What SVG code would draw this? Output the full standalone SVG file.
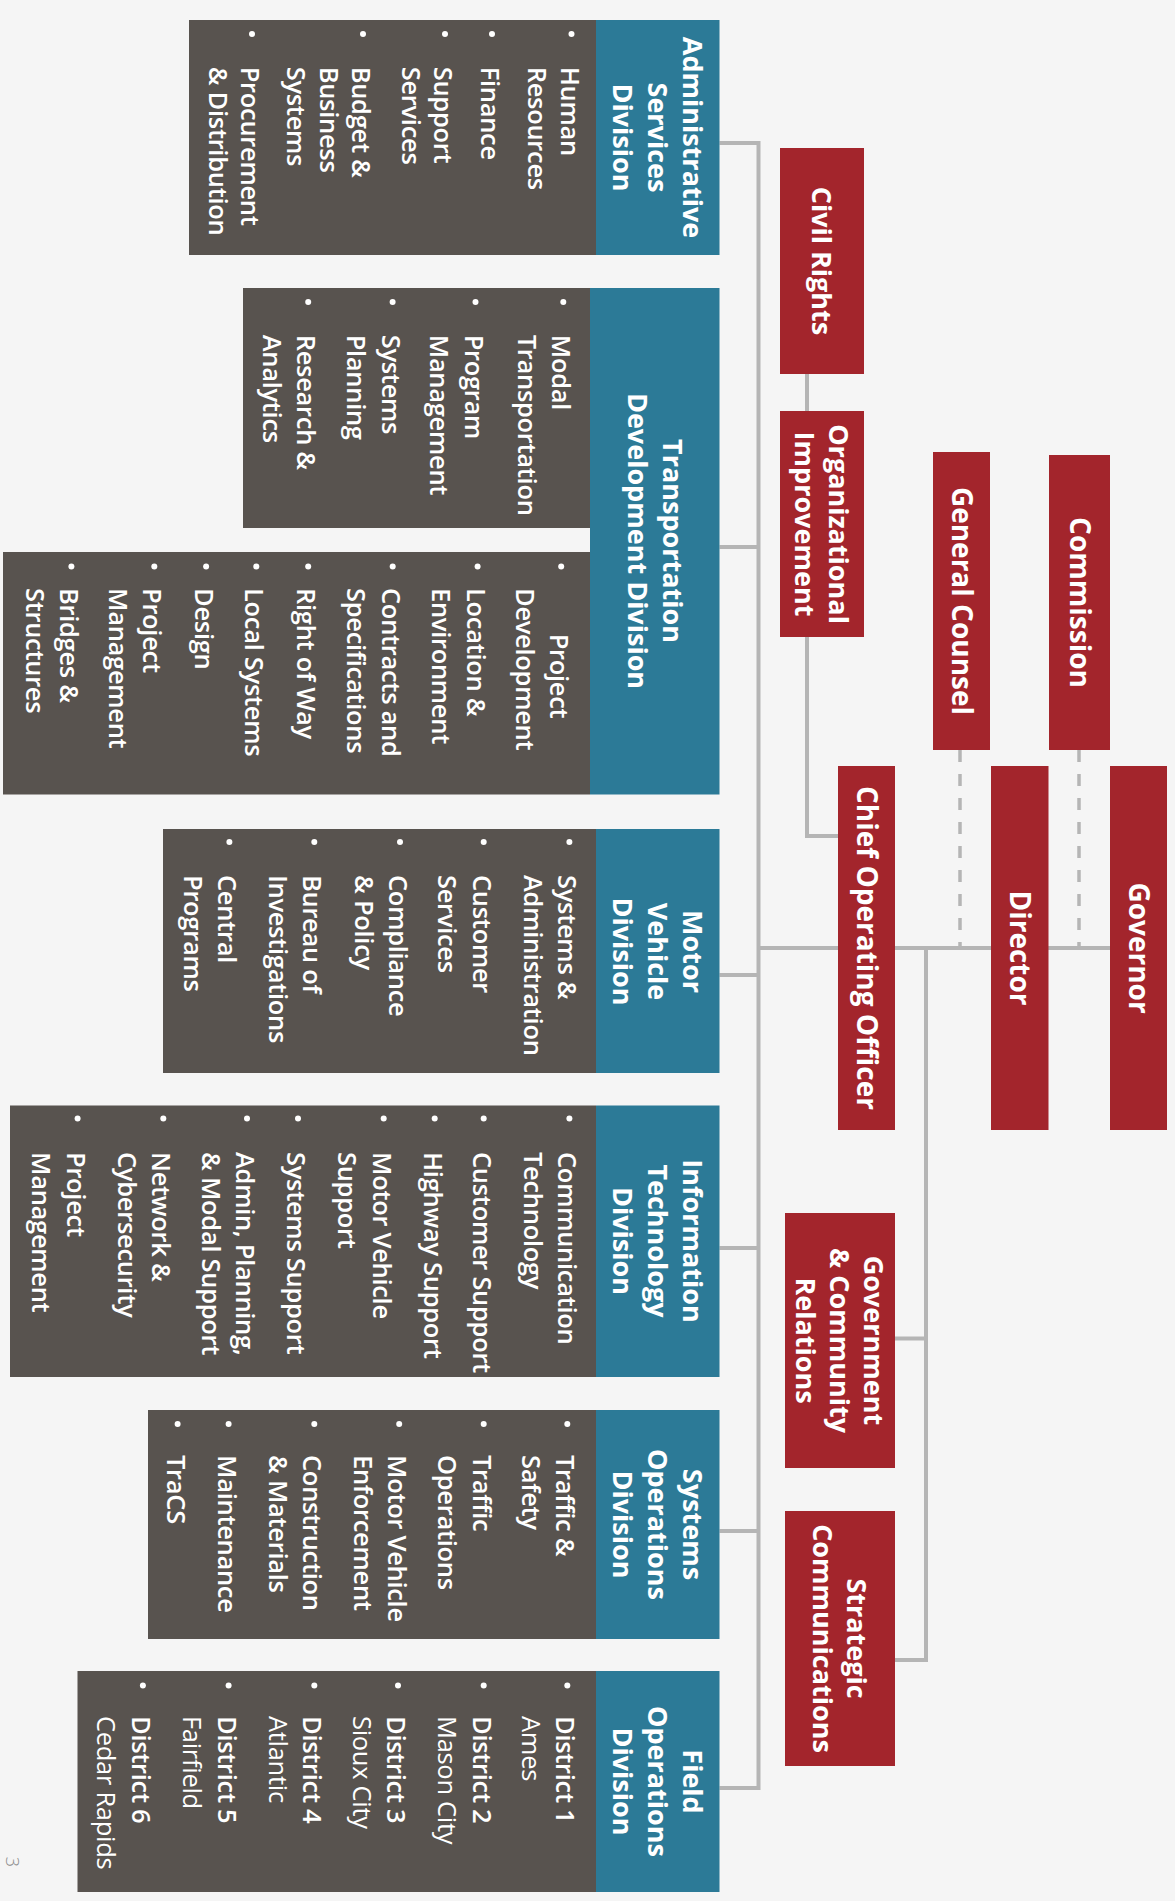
<svg xmlns="http://www.w3.org/2000/svg" width="1175" height="1901" viewBox="0 0 1175 1901">
<style>
.bg{fill:#f5f5f5}
.red{fill:#a3252c}
.teal{fill:#2c7a97}
.gray{fill:#58534f}
.ln{fill:none;stroke:#b5b5b5;stroke-width:4}
.dash{fill:none;stroke:#b5b5b5;stroke-width:3.5;stroke-dasharray:12 12}
.rt{font-family:"Open Sans","Liberation Sans",sans-serif;font-weight:700;font-size:27px;fill:#fff;text-anchor:middle}
.rb{font-size:28px}
.hd{font-family:"Open Sans","Liberation Sans",sans-serif;font-weight:700;font-size:27px;fill:#fff;text-anchor:middle}
.li{font-family:"Open Sans","Liberation Sans",sans-serif;font-weight:600;font-size:25.5px;letter-spacing:-0.3px;fill:#fff}
.lr{font-weight:400}
.bu{fill:#fff}
.pg{font-family:"Open Sans","Liberation Sans",sans-serif;font-weight:300;font-size:18px;fill:#8a8a8a;text-anchor:middle}
</style>
<rect class="bg" x="0" y="0" width="1175" height="1901"/>

<g id="connectors">
<path class="ln" d="M719.5 143 H758.5 V1788 H719.5"/>
<path class="ln" d="M719.5 547 H758.5 M719.5 975 H758.5 M719.5 1248 H758.5 M719.5 1531 H758.5"/>
<path class="ln" d="M758.5 948 H1110"/>
<path class="ln" d="M807 374 V836 H838"/>
<path class="ln" d="M926 948 V1660 H895 M895 1338.5 H926"/>
<path class="dash" d="M960 750 V948 M1079 750 V948"/>
</g>

<g id="governor">
<rect class="red" x="1110" y="766" width="57" height="364"/>
<text class="rt rb" transform="translate(1175,0) rotate(90)" x="948" y="46">Governor</text>
</g>
<g id="director">
<rect class="red" x="991" y="766" width="57.5" height="364"/>
<text class="rt rb" transform="translate(1175,0) rotate(90)" x="948" y="165">Director</text>
</g>
<g id="coo">
<rect class="red" x="838" y="766" width="57" height="364"/>
<text class="rt rb" transform="translate(1175,0) rotate(90)" x="948" y="318">Chief Operating Officer</text>
</g>
<g id="commission">
<rect class="red" x="1049" y="455" width="61" height="295"/>
<text class="rt rb" transform="translate(1175,0) rotate(90)" x="602.5" y="105">Commission</text>
</g>
<g id="general-counsel">
<rect class="red" x="933" y="452" width="57" height="298"/>
<text class="rt rb" transform="translate(1175,0) rotate(90)" x="601" y="223">General Counsel</text>
</g>
<g id="civil-rights">
<rect class="red" x="780" y="148" width="84" height="226"/>
<text class="rt" transform="translate(1175,0) rotate(90)" x="261" y="362.6">Civil Rights</text>
</g>
<g id="org-improvement">
<rect class="red" x="780" y="411" width="84" height="226"/>
<text class="rt" transform="translate(1175,0) rotate(90)"><tspan x="524" y="346">Organizational</tspan><tspan x="524" y="380">Improvement</tspan></text>
</g>
<g id="gov-community">
<rect class="red" x="785" y="1213" width="110" height="255"/>
<text class="rt" transform="translate(1175,0) rotate(90)"><tspan x="1340.5" y="311">Government</tspan><tspan x="1340.5" y="345">&amp; Community</tspan><tspan x="1340.5" y="379">Relations</tspan></text>
</g>
<g id="strategic-comm">
<rect class="red" x="785" y="1511" width="110" height="255"/>
<text class="rt" transform="translate(1175,0) rotate(90)"><tspan x="1638.5" y="328">Strategic</tspan><tspan x="1638.5" y="362">Communications</tspan></text>
</g>

<g id="admin-division">
<rect class="gray" x="189" y="20" width="407" height="235"/>
<rect class="teal" x="596" y="20" width="123.5" height="235"/>
<text class="hd" transform="translate(1175,0) rotate(90)"><tspan x="137.5" y="492">Administrative</tspan><tspan x="137.5" y="527">Services</tspan><tspan x="137.5" y="562">Division</tspan></text>
<g class="bu"><circle cx="571.5" cy="34" r="3"/><circle cx="492" cy="34" r="3"/><circle cx="445" cy="34" r="3"/><circle cx="363" cy="34" r="3"/><circle cx="252" cy="34" r="3"/></g>
<text class="li" transform="translate(1175,0) rotate(90)"><tspan x="66.7" y="614.5">Human</tspan><tspan x="66.7" y="647">Resources</tspan><tspan x="66.7" y="694">Finance</tspan><tspan x="66.7" y="741">Support</tspan><tspan x="66.7" y="773.5">Services</tspan><tspan x="66.7" y="823">Budget &amp;</tspan><tspan x="66.7" y="855.5">Business</tspan><tspan x="66.7" y="888">Systems</tspan><tspan x="66.7" y="934">Procurement</tspan><tspan x="66.7" y="966.5">&amp; Distribution</tspan></text>
</g>

<g id="tdd-division">
<rect class="gray" x="243" y="288" width="347" height="240"/>
<rect class="gray" x="3" y="552" width="587" height="242.5"/>
<rect class="teal" x="590" y="288" width="129.5" height="506.5"/>
<text class="hd" transform="translate(1175,0) rotate(90)"><tspan x="541" y="512">Transportation</tspan><tspan x="541" y="547">Development Division</tspan></text>
<g class="bu"><circle cx="563.3" cy="302" r="3"/><circle cx="475.5" cy="302" r="3"/><circle cx="392.6" cy="302" r="3"/><circle cx="308.2" cy="302" r="3"/>
<circle cx="561.2" cy="566.5" r="3"/><circle cx="477.6" cy="566.5" r="3"/><circle cx="392.7" cy="566.5" r="3"/><circle cx="308.2" cy="566.5" r="3"/><circle cx="256.3" cy="566.5" r="3"/><circle cx="206.1" cy="566.5" r="3"/><circle cx="154.3" cy="566.5" r="3"/><circle cx="71.4" cy="566.5" r="3"/></g>
<text class="li" transform="translate(1175,0) rotate(90)"><tspan x="334.7" y="622.7">Modal</tspan><tspan x="334.7" y="657.2">Transportation</tspan><tspan x="334.7" y="710.5">Program</tspan><tspan x="334.7" y="745">Management</tspan><tspan x="334.7" y="793.4">Systems</tspan><tspan x="334.7" y="827.9">Planning</tspan><tspan x="334.7" y="877.8">Research &amp;</tspan><tspan x="334.7" y="912.3">Analytics</tspan></text>
<text class="li" transform="translate(1175,0) rotate(90)"><tspan x="676" y="624.8" text-anchor="middle">Project</tspan><tspan x="588" y="659.3">Development</tspan><tspan x="588" y="708.4">Location &amp;</tspan><tspan x="588" y="742.9">Environment</tspan><tspan x="588" y="793.3">Contracts and</tspan><tspan x="588" y="827.8">Specifications</tspan><tspan x="588" y="877.8">Right of Way</tspan><tspan x="588" y="929.7">Local Systems</tspan><tspan x="588" y="979.9">Design</tspan><tspan x="588" y="1031.7">Project</tspan><tspan x="588" y="1066.2">Management</tspan><tspan x="588" y="1114.6">Bridges &amp;</tspan><tspan x="588" y="1149.1">Structures</tspan></text>
</g>

<g id="mvd-division">
<rect class="gray" x="163" y="829" width="433" height="244"/>
<rect class="teal" x="596" y="829" width="123.5" height="244"/>
<text class="hd" transform="translate(1175,0) rotate(90)"><tspan x="951.5" y="492">Motor</tspan><tspan x="951.5" y="527">Vehicle</tspan><tspan x="951.5" y="562">Division</tspan></text>
<g class="bu"><circle cx="569.4" cy="842" r="3"/><circle cx="483.7" cy="842" r="3"/><circle cx="400" cy="842" r="3"/><circle cx="314.3" cy="842" r="3"/><circle cx="229.4" cy="842" r="3"/></g>
<text class="li" transform="translate(1175,0) rotate(90)"><tspan x="875" y="616.6">Systems &amp;</tspan><tspan x="875" y="651.1">Administration</tspan><tspan x="875" y="702.3">Customer</tspan><tspan x="875" y="736.8">Services</tspan><tspan x="875" y="786">Compliance</tspan><tspan x="875" y="820.5">&amp; Policy</tspan><tspan x="875" y="871.7">Bureau of</tspan><tspan x="875" y="906.2">Investigations</tspan><tspan x="875" y="956.6">Central</tspan><tspan x="875" y="991.1">Programs</tspan></text>
</g>

<g id="it-division">
<rect class="gray" x="10" y="1105.5" width="586" height="271.5"/>
<rect class="teal" x="596" y="1105.5" width="123.5" height="271.5"/>
<text class="hd" transform="translate(1175,0) rotate(90)"><tspan x="1241" y="492">Information</tspan><tspan x="1241" y="527">Technology</tspan><tspan x="1241" y="562">Division</tspan></text>
<g class="bu"><circle cx="569.4" cy="1118.5" r="3"/><circle cx="483.7" cy="1118.5" r="3"/><circle cx="434.7" cy="1118.5" r="3"/><circle cx="383.7" cy="1118.5" r="3"/><circle cx="298" cy="1118.5" r="3"/><circle cx="247" cy="1118.5" r="3"/><circle cx="163.3" cy="1118.5" r="3"/><circle cx="77.6" cy="1118.5" r="3"/></g>
<text class="li" transform="translate(1175,0) rotate(90)"><tspan x="1152" y="616.6">Communication</tspan><tspan x="1152" y="651.1">Technology</tspan><tspan x="1152" y="702.3">Customer Support</tspan><tspan x="1152" y="751.3">Highway Support</tspan><tspan x="1152" y="802.3">Motor Vehicle</tspan><tspan x="1152" y="836.8">Support</tspan><tspan x="1152" y="888">Systems Support</tspan><tspan x="1152" y="939">Admin, Planning,</tspan><tspan x="1152" y="973.5">&amp; Modal Support</tspan><tspan x="1152" y="1022.7">Network &amp;</tspan><tspan x="1152" y="1057.2">Cybersecurity</tspan><tspan x="1152" y="1108.4">Project</tspan><tspan x="1152" y="1142.9">Management</tspan></text>
</g>

<g id="sysops-division">
<rect class="gray" x="148" y="1410" width="448" height="229"/>
<rect class="teal" x="596" y="1410" width="123.5" height="229"/>
<text class="hd" transform="translate(1175,0) rotate(90)"><tspan x="1524.5" y="492">Systems</tspan><tspan x="1524.5" y="527">Operations</tspan><tspan x="1524.5" y="562">Division</tspan></text>
<g class="bu"><circle cx="567.3" cy="1424" r="3"/><circle cx="483.7" cy="1424" r="3"/><circle cx="399.2" cy="1424" r="3"/><circle cx="314.3" cy="1424" r="3"/><circle cx="228.6" cy="1424" r="3"/><circle cx="177.6" cy="1424" r="3"/></g>
<text class="li" transform="translate(1175,0) rotate(90)"><tspan x="1455" y="618.7">Traffic &amp;</tspan><tspan x="1455" y="653.2">Safety</tspan><tspan x="1455" y="702.3">Traffic</tspan><tspan x="1455" y="736.8">Operations</tspan><tspan x="1455" y="786.8">Motor Vehicle</tspan><tspan x="1455" y="821.3">Enforcement</tspan><tspan x="1455" y="871.7">Construction</tspan><tspan x="1455" y="906.2">&amp; Materials</tspan><tspan x="1455" y="957.4">Maintenance</tspan><tspan x="1455" y="1008.4">TraCS</tspan></text>
</g>

<g id="field-division">
<rect class="gray" x="77.5" y="1671" width="518.5" height="221"/>
<rect class="teal" x="596" y="1671" width="123.5" height="221"/>
<text class="hd" transform="translate(1175,0) rotate(90)"><tspan x="1781.5" y="492">Field</tspan><tspan x="1781.5" y="527">Operations</tspan><tspan x="1781.5" y="562">Division</tspan></text>
<g class="bu"><circle cx="567.3" cy="1685.5" r="3"/><circle cx="483.7" cy="1685.5" r="3"/><circle cx="398" cy="1685.5" r="3"/><circle cx="314.3" cy="1685.5" r="3"/><circle cx="228.6" cy="1685.5" r="3"/><circle cx="142.9" cy="1685.5" r="3"/></g>
<text class="li" transform="translate(1175,0) rotate(90)"><tspan x="1716" y="618.7">District 1</tspan><tspan class="lr" x="1716" y="653.2">Ames</tspan><tspan x="1716" y="702.3">District 2</tspan><tspan class="lr" x="1716" y="736.8">Mason City</tspan><tspan x="1716" y="788">District 3</tspan><tspan class="lr" x="1716" y="822.5">Sioux City</tspan><tspan x="1716" y="871.7">District 4</tspan><tspan class="lr" x="1716" y="906.2">Atlantic</tspan><tspan x="1716" y="957.4">District 5</tspan><tspan class="lr" x="1716" y="991.9">Fairfield</tspan><tspan x="1716" y="1043.1">District 6</tspan><tspan class="lr" x="1716" y="1077.6">Cedar Rapids</tspan></text>
</g>

<text class="pg" transform="translate(1175,0) rotate(90)" x="1862" y="1169">3</text>
</svg>
